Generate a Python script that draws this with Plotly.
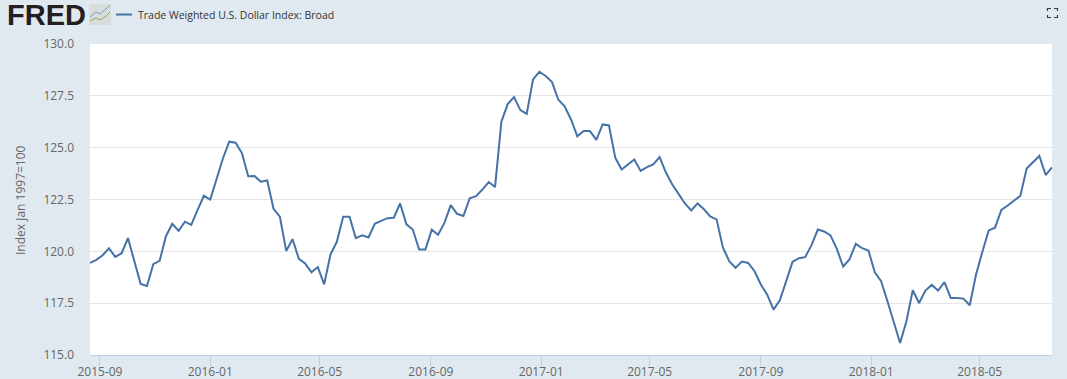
import pandas as pd
import plotly.graph_objects as go

SERIES_NAME = "Trade Weighted U.S. Dollar Index: Broad"
Y_TITLE = "Index Jan 1997=100"
START_DATE = "2015-08-21"
values = [
    119.44, 119.59, 119.81, 120.14, 119.73, 119.91, 120.64, 119.53, 118.43, 118.33,
    119.38, 119.54, 120.73, 121.33, 120.99, 121.43, 121.28, 122.00, 122.68, 122.50,
    123.47, 124.48, 125.29, 125.24, 124.74, 123.62, 123.63, 123.36, 123.42, 122.05,
    121.67, 120.02, 120.59, 119.64, 119.41, 118.99, 119.24, 118.41, 119.85, 120.46,
    121.67, 121.67, 120.64, 120.77, 120.67, 121.33, 121.47, 121.60, 121.62, 122.31,
    121.30, 121.05, 120.09, 120.09, 121.04, 120.80, 121.37, 122.23, 121.81, 121.71,
    122.56, 122.66, 122.98, 123.34, 123.10, 126.25, 127.10, 127.44, 126.81, 126.63,
    128.29, 128.66, 128.46, 128.16, 127.31, 126.99, 126.36, 125.55, 125.80, 125.80,
    125.38, 126.12, 126.07, 124.51, 123.95, 124.20, 124.43, 123.88, 124.06, 124.19,
    124.54, 123.80, 123.22, 122.77, 122.31, 121.97, 122.31, 122.03, 121.68, 121.54,
    120.19, 119.53, 119.20, 119.51, 119.44, 119.04, 118.40, 117.91, 117.19, 117.64,
    118.56, 119.49, 119.67, 119.72, 120.30, 121.05, 120.96, 120.77, 120.12, 119.27,
    119.61, 120.36, 120.15, 120.04, 118.99, 118.56, 117.59, 116.63, 115.58, 116.63,
    118.12, 117.51, 118.11, 118.38, 118.11, 118.51, 117.75, 117.75, 117.72, 117.40,
    118.88, 119.98, 121.01, 121.14, 122.00, 122.21, 122.44, 122.68, 123.99, 124.28,
    124.60, 123.68, 124.05,
]
x_ticks = ["2015-09-01", "2016-01-01", "2016-05-01", "2016-09-01", "2017-01-01",
           "2017-05-01", "2017-09-01", "2018-01-01", "2018-05-01"]
y_ticks = [115.0, 117.5, 120.0, 122.5, 125.0, 127.5, 130.0]

dates = pd.date_range(START_DATE, periods=len(values), freq="7D")
W, H = 1067, 379
L, R, T, B = 90, 15, 44, 24
BG, LINE, FONT = "#e1e9f0", "#4572a7", "Open Sans, sans-serif"


def px(x):
    return (x - L) / (W - L - R)


def py(y):
    return 1 - (y - T) / (H - T - B)


fig = go.Figure(go.Scatter(x=dates, y=values, mode="lines", name=SERIES_NAME,
                           line=dict(color=LINE, width=2), showlegend=False))

shapes = [
    # legend key
    dict(type="line", xref="paper", yref="paper", x0=px(116), x1=px(132), y0=py(14.5), y1=py(14.5),
         line=dict(color=LINE, width=2)),
    # mini logo tile
    dict(type="rect", xref="paper", yref="paper", x0=px(89), x1=px(111), y0=py(4), y1=py(25),
         fillcolor="#d9dcdc", line=dict(width=0)),
    dict(type="path", xref="paper", yref="paper", line=dict(color="#7d9fc0", width=1),
         path=f"M{px(90)},{py(17)} L{px(96)},{py(12)} L{px(100)},{py(14)} L{px(106)},{py(9)} L{px(110)},{py(5)}"),
    dict(type="path", xref="paper", yref="paper", line=dict(color="#8aa860", width=1),
         path=f"M{px(90)},{py(21)} L{px(96)},{py(18)} L{px(100)},{py(20)} L{px(106)},{py(16)} L{px(110)},{py(12)}"),
]
# full-screen icon corners
for a, b, c, d, e, f in [(1047.5, 11, 1047.5, 8.5, 1051, 8.5), (1054, 8.5, 1057.5, 8.5, 1057.5, 11),
                         (1047.5, 15, 1047.5, 17.5, 1051, 17.5), (1054, 17.5, 1057.5, 17.5, 1057.5, 15)]:
    shapes.append(dict(type="path", xref="paper", yref="paper", line=dict(color="#2f3f4f", width=1.2),
                       path=f"M{px(a)},{py(b)} L{px(c)},{py(d)} L{px(e)},{py(f)}"))

annotations = [
    dict(text="<b>FRED</b>", xref="paper", yref="paper", x=px(5), y=py(15), xanchor="left", yanchor="middle",
         showarrow=False, font=dict(family="Liberation Sans, sans-serif", size=29, color="#231f20")),
    dict(text=SERIES_NAME, xref="paper", yref="paper", x=px(135.5), y=py(15), xanchor="left", yanchor="middle",
         showarrow=False, font=dict(family=FONT, size=10.5, color="#333333")),
    dict(text=Y_TITLE, xref="paper", yref="paper", x=px(20), y=py(200), xanchor="center", yanchor="middle",
         textangle=-90, showarrow=False, font=dict(family=FONT, size=12, color="#666666")),
]

fig.update_layout(
    width=W, height=H, autosize=False,
    margin=dict(l=L, r=R, t=T, b=B, pad=0),
    paper_bgcolor=BG, plot_bgcolor="#ffffff",
    shapes=shapes, annotations=annotations,
    font=dict(family=FONT, size=12, color="#666666"),
    xaxis=dict(range=[dates[0], dates[-1]], tickvals=x_ticks, tickformat="%Y-%m", showgrid=False,
               automargin=False,
               ticks="outside", ticklen=10, tickwidth=1, tickcolor="#c0d0e0", ticklabelstandoff=-4,
               showline=True, linecolor="#c0d0e0", linewidth=1, zeroline=False,
               tickfont=dict(size=12, color="#666666")),
    yaxis=dict(range=[115, 130], tickvals=y_ticks, tickformat=".1f", showgrid=True, gridcolor="#e6e6e6",
               automargin=False,
               gridwidth=1, zeroline=False, showline=False, ticks="", ticklabelstandoff=15,
               tickfont=dict(size=12, color="#666666")),
)
fig.write_html("out.html", config=dict(displayModeBar=False),
               post_script="document.body.style.margin='0';document.documentElement.style.background='#e1e9f0';")
